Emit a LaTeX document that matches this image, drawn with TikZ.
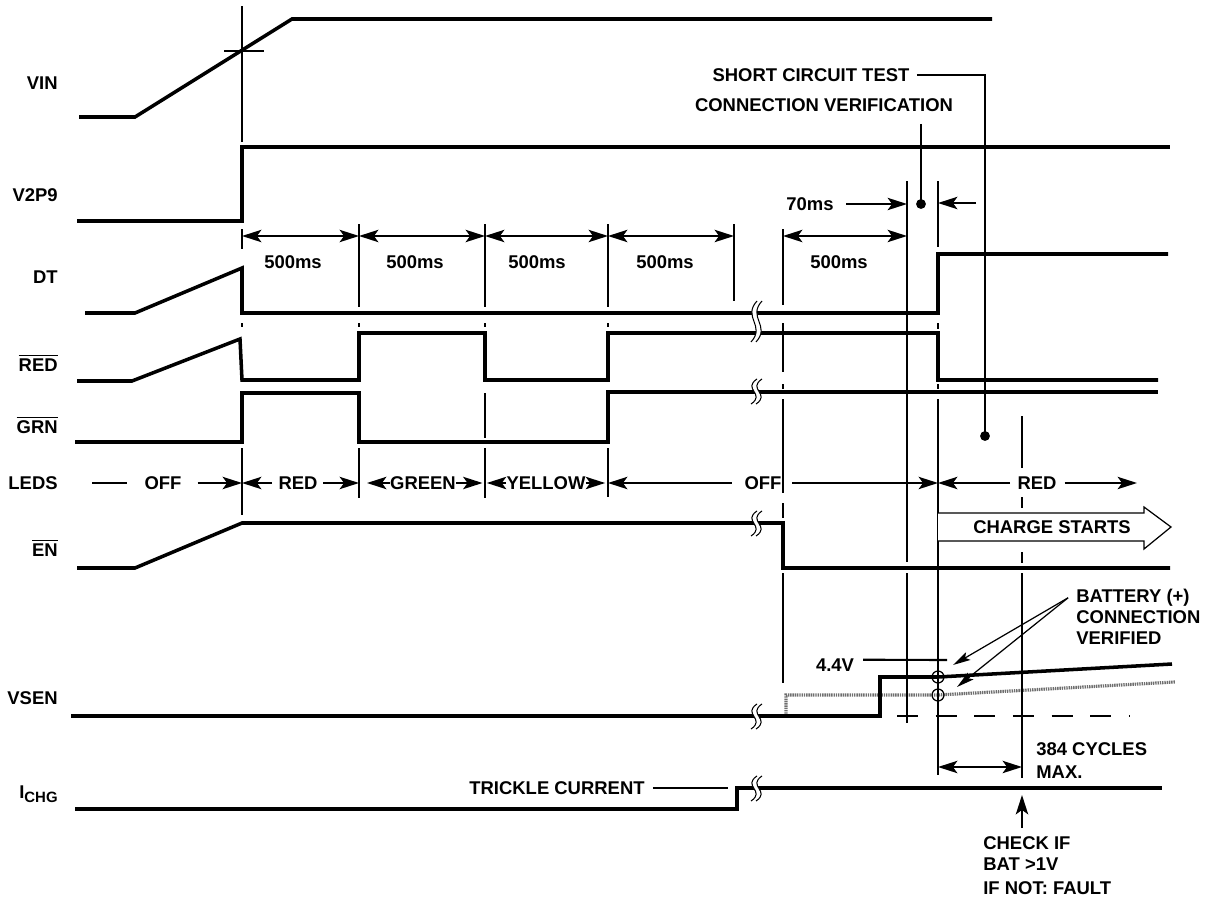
\documentclass[tikz,border=0pt]{standalone}
\usepackage{fontspec}
\setmainfont{Liberation Sans}
\usetikzlibrary{arrows.meta, calc}
\definecolor{hatchgrey}{HTML}{6E6E6E}

\newcommand{\ovl}[1]{$\overline{\mbox{#1}}$}

\tikzset{
  sig/.style={line width=2pt},
  tline/.style={line width=1.2pt},
  dim/.style={tline, {Stealth[length=11pt, width=7pt, inset=2.5pt]}-{Stealth[length=11pt, width=7pt, inset=2.5pt]}},
  ptr/.style={tline, -{Stealth[length=11pt, width=7pt, inset=2.5pt]}},
  fineptr/.style={line width=0.7pt, -{Stealth[length=10pt, width=5pt, inset=2pt]}},
  lbl/.style={font=\fontsize{10.5}{12}\selectfont\bfseries, inner sep=0pt},
  brkmark/.pic={
    \fill[white] (3,0) .. controls (-12,10) and (12,15) .. (-3,25) -- (2,25)
      .. controls (17,15) and (-7,10) .. (8,0) -- cycle;
    \draw[line width=0.6pt] (3,0) .. controls (-12,10) and (12,15) .. (-3,25);
    \draw[line width=0.6pt] (8,0) .. controls (-7,10) and (17,15) .. (2,25);
  }
}

\begin{document}
\begin{tikzpicture}[x=0.02cm, y=-0.02cm]
  \useasboundingbox (0,0) rectangle (1205,899);
  \foreach \n/\x in {0/242,1/359,2/485,3/608,4/734,5/783,6/907,7/938,8/985,9/1022}{%
    \coordinate (t\n) at (\x,0);}

  \node[lbl, anchor=base east] (vin)  at (58,90)  {VIN};
  \node[lbl, anchor=base east] (v2p9) at (58,201) {V2P9};
  \node[lbl, anchor=base east] (dt)   at (58,283) {DT};
  \node[lbl, anchor=base east] (red)  at (58,371) {\ovl{RED}};
  \node[lbl, anchor=base east] (grn)  at (58,433) {\ovl{GRN}};
  \node[lbl, anchor=base east] (leds) at (58,489) {LEDS};
  \node[lbl, anchor=base east] (en)   at (58,556) {\ovl{EN}};
  \node[lbl, anchor=base east] (vsen) at (58,704) {VSEN};
  \node[lbl, anchor=base east] (ichg) at (58,798)
    {I\raisebox{-2.3pt}{\fontsize{8.5}{10}\selectfont\bfseries CHG}};

  \draw[hatchgrey, line width=1.8pt, dash pattern=on 0.8pt off 0.5pt]
    (786,716) -- (786,695) -- (938,695) -- (1175,682);

  \draw[sig] (79,117) -- (135,117) -- (292,19) -- (992,19);
  \draw[sig] (77,221) -- (242,221) -- (242,147) -- (1170,147);
  \draw[sig] (85,313) -- (135,313) -- (242,268) -- (242,313) -- (938,313)
    -- (938,254) -- (1168,254);
  \draw[sig] (77,381) -- (132,381) -- (240,339) -- (242,380) -- (359,380)
    -- (359,333) -- (485,333) -- (485,380) -- (608,380) -- (608,333)
    -- (938,333) -- (938,380) -- (1158,380);
  \draw[sig] (75,442) -- (242,442) -- (242,393) -- (359,393) -- (359,442)
    -- (608,442) -- (608,392) -- (1158,392);
  \draw[sig] (77,568) -- (135,568) -- (242,523) -- (783,523) -- (783,568)
    -- (1170,568);
  \draw[sig] (71,716) -- (880,716) -- (880,677) -- (938,677) -- (1172,664);
  \draw[sig] (75,809) -- (737,809) -- (737,788) -- (1162,788);

  \draw[tline] (242,6) -- (242,142);
  \draw[tline] (224,51) -- (264,51);
  \foreach \x/\ya/\yb in {242/229/249, 242/323/327, 242/448/515,
    359/224/307, 359/323/327, 359/448/498,
    485/224/307, 485/323/327, 485/393/438, 485/448/498,
    608/224/307, 608/323/327, 608/448/497, 734/224/301,
    783/229/305, 783/323/372, 783/384/389, 783/399/493, 783/503/518, 783/573/683,
    907/181/562, 907/573/723,
    938/181/247, 938/323/329, 938/384/389, 938/399/775,
    1022/416/468, 1022/497/508, 1022/552/563, 1022/573/778}{%
    \draw[tline] (\x,\ya) -- (\x,\yb);}

  \pic[yscale=1.64] at (754,301) {brkmark};
  \foreach \y in {379,511,704,776}{%
    \pic at (754,\y) {brkmark};}

  \foreach \a/\b/\c in {0/1/293, 1/2/415, 2/3/537, 3/4/665, 5/6/839}{%
    \draw[dim] (t\a |- 0,236) -- (t\b |- 0,236);
    \node[lbl] (ms\a) at (\c,262) {500ms};}

  \node[lbl] (sct) at (811,75) {SHORT CIRCUIT TEST};
  \node[lbl] (cver) at (824,105) {CONNECTION VERIFICATION};
  \coordinate (sdot) at (985,436);
  \coordinate (cdot) at (921,204);
  \draw[tline] ([xshift=4pt]sct.east) -| (sdot);
  \fill (sdot) circle[radius=2.8pt];
  \draw[tline] ($(cdot |- cver.south)+(0,12)$) -- (cdot);
  \fill (cdot) circle[radius=2.8pt];

  \node[lbl] (t70) at (810,204) {70ms};
  \coordinate (c70b) at (976,203);
  \draw[ptr] ([xshift=7pt]t70.east) -- (t6 |- cdot);
  \draw[ptr] (c70b) -- (t7 |- c70b);

  \node[lbl] (off1) at (163,483) {OFF};
  \node[lbl] (red1) at (298,483) {RED};
  \node[lbl] (grn1) at (423,483) {GREEN};
  \node[lbl] (yel1) at (546,483) {YELLOW};
  \node[lbl] (off2) at (763,483) {OFF};
  \node[lbl] (red2) at (1037,483) {RED};
  \coordinate (lstart) at (92,483);
  \coordinate (lend) at (1137,483);
  \draw[tline] (lstart) -- ([xshift=-10pt]off1.west);
  \draw[ptr] ([xshift=9pt]off1.east) -- (t0 |- off1);
  \draw[ptr] ([xshift=-3.5pt]red1.west) -- (t0 |- red1);
  \draw[ptr] ([xshift=3pt]red1.east) -- (t1 |- red1);
  \draw[ptr] (grn1.west) -- ([xshift=-13pt]grn1.west);
  \draw[ptr] (grn1.east) -- ([xshift=15pt]grn1.east);
  \draw[ptr] (yel1.west) -- ([xshift=-11pt]yel1.west);
  \draw[ptr] (yel1.east) -- ([xshift=11pt]yel1.east);
  \draw[ptr] ([xshift=-7pt]off2.west) -- (t3 |- off2);
  \draw[ptr] ([xshift=6pt]off2.east) -- (t7 |- off2);
  \draw[ptr] ([xshift=-4pt]red2.west) -- (t7 |- red2);
  \draw[ptr] ([xshift=4.5pt]red2.east) -- (lend);

  \draw[line width=0.7pt, fill=white] (938,513) -- (1144,513) -- (1144,507)
    -- (1171,527) -- (1144,549) -- (1144,541) -- (938,541);
  \node[lbl] (chg) at (1052,527) {CHARGE STARTS};

  \node[lbl] (v44) at (835,665) {4.4V};
  \coordinate (v44end) at (947,660);
  \draw[tline] ([xshift=5pt,yshift=3pt]v44.east) -- (v44end);
  \draw[line width=0.7pt] (938,677) circle[radius=3.4pt];
  \draw[line width=0.7pt] (938,695) circle[radius=3.4pt];
  \draw[tline, dash pattern=on 12pt off 10pt] (897,716) -- (1130,716);

  \node[lbl, align=left, anchor=north west] (batt) at (1076,589)
    {BATTERY (+)\\CONNECTION\\VERIFIED};
  \coordinate (bsrc) at ([xshift=-4.5pt, yshift=-5pt]batt.north west);
  \coordinate (btop) at (953,665);
  \coordinate (bbot) at (957,687);
  \draw[fineptr] (bsrc) -- (btop);
  \draw[fineptr] (bsrc) -- (bbot);

  \node[lbl, align=left, anchor=north west] (cyc) at (1036,742)
    {384 CYCLES\\[1pt]MAX.};
  \draw[dim] (t7 |- 0,767) -- (t9 |- 0,767);

  \node[lbl, align=left, anchor=north west] (chk) at (983,836)
    {CHECK IF\\BAT >1V\\[2pt]IF NOT: FAULT};
  \draw[ptr] ($(t9 |- chk.north)+(0,-8)$) -- (t9 |- 0,795);

  \node[lbl] (trk) at (557,788) {TRICKLE CURRENT};
  \coordinate (trkend) at (728,788);
  \draw[tline] ([xshift=4.5pt]trk.east) -- (trkend);
\end{tikzpicture}
\end{document}
